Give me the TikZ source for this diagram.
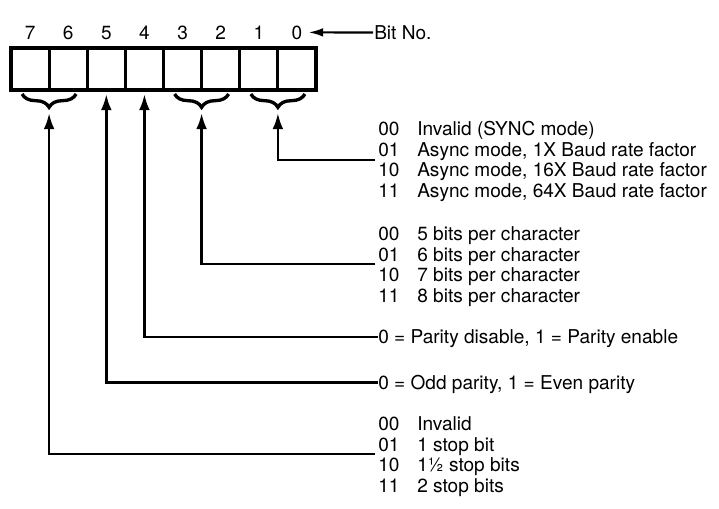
\documentclass[tikz,border=0pt]{standalone}
\usepackage{fontspec}
\setmainfont{TeX Gyre Heros}
\usetikzlibrary{arrows.meta,decorations.pathreplacing}
\begin{document}
\begin{tikzpicture}[x=0.75pt,y=-0.75pt,
  txt/.style={inner sep=0pt, font=\fontsize{14.3pt}{16pt}\selectfont},
  cell/.style={draw, line width=2.3pt, minimum width=28.59pt, minimum height=31.5pt, inner sep=0pt},
  conn/.style={line width=2pt, -{Latex[length=12pt,width=8pt]}},
  bitarr/.style={line width=1.6pt, -{Latex[length=11pt,width=6.5pt]}},
  brc/.style={line width=2.5pt, decorate, decoration={brace, mirror, amplitude=10pt}},
  ]
\useasboundingbox (0,0) rectangle (719,508);

% register cells
\node[cell] (c7) at (30.06,69) {};
\node[cell] (c6) at (68.19,69) {};
\node[cell] (c5) at (106.31,69) {};
\node[cell] (c4) at (144.44,69) {};
\node[cell] (c3) at (182.56,69) {};
\node[cell] (c2) at (220.69,69) {};
\node[cell] (c1) at (258.81,69) {};
\node[cell] (c0) at (296.94,69) {};

% bit numbers
\node[txt, anchor=base] (n7) at (30.06,39) {7};
\node[txt, anchor=base] (n6) at (68.19,39) {6};
\node[txt, anchor=base] (n5) at (106.31,39) {5};
\node[txt, anchor=base] (n4) at (144.44,39) {4};
\node[txt, anchor=base] (n3) at (182.56,39) {3};
\node[txt, anchor=base] (n2) at (220.69,39) {2};
\node[txt, anchor=base] (n1) at (258.81,39) {1};
\node[txt, anchor=base] (n0) at (296.94,39) {0};
\node[txt, anchor=base west] (bitno) at (374,39) {Bit No.};
\draw[bitarr] ([shift={(-1,-6.5)}]bitno.base west) -- ([shift={(6,0)}]n0.east);

% braces
\draw[brc] (22.1,94) -- (76.1,94);
\draw[brc] (174.6,94) -- (228.6,94);
\draw[brc] (250.9,94) -- (304.9,94);
\coordinate (t76) at (49.1,113);
\coordinate (t32) at (201.6,113);
\coordinate (t10) at (277.9,113);

% group 1: bits 1-0
\node[txt, anchor=base west] (g1a) at (378,135.5) {00};
\node[txt, anchor=base west] (g1ad) at (417,135.5) {Invalid (SYNC mode)};
\node[txt, anchor=base west] (g1b) at (378,156) {01};
\node[txt, anchor=base west] (g1bd) at (417,156) {Async mode, 1X Baud rate factor};
\node[txt, anchor=base west] (g1c) at (378,176.5) {10};
\node[txt, anchor=base west] (g1cd) at (417,176.5) {Async mode, 16X Baud rate factor};
\node[txt, anchor=base west] (g1d) at (378,197) {11};
\node[txt, anchor=base west] (g1dd) at (417,197) {Async mode, 64X Baud rate factor};

% group 2: bits 3-2
\node[txt, anchor=base west] (g2a) at (378,240.5) {00};
\node[txt, anchor=base west] (g2ad) at (417,240.5) {5 bits per character};
\node[txt, anchor=base west] (g2b) at (378,261) {01};
\node[txt, anchor=base west] (g2bd) at (417,261) {6 bits per character};
\node[txt, anchor=base west] (g2c) at (378,281.5) {10};
\node[txt, anchor=base west] (g2cd) at (417,281.5) {7 bits per character};
\node[txt, anchor=base west] (g2d) at (378,302) {11};
\node[txt, anchor=base west] (g2dd) at (417,302) {8 bits per character};

% parity
\node[txt, anchor=base west] (par) at (378,343.5) {0 = Parity disable, 1 = Parity enable};
\node[txt, anchor=base west] (odd) at (378,389) {0 = Odd parity, 1 = Even parity};

% group 3: bits 7-6
\node[txt, anchor=base west] (g3a) at (378,430.5) {00};
\node[txt, anchor=base west] (g3ad) at (417,430.5) {Invalid};
\node[txt, anchor=base west] (g3b) at (378,451) {01};
\node[txt, anchor=base west] (g3bd) at (417,451) {1 stop bit};
\node[txt, anchor=base west] (g3c) at (378,471.5) {10};
\node[txt, anchor=base west] (g3cd) at (417,471.5) {1½ stop bits};
\node[txt, anchor=base west] (g3d) at (378,492) {11};
\node[txt, anchor=base west] (g3dd) at (417,492) {2 stop bits};

% connectors
\draw[conn] ([shift={(-3,4)}]g1b.base west) -| (t10);
\draw[conn] ([shift={(-3,3)}]g2b.base west) -| (t32);
\draw[conn] ([shift={(0,-6.5)}]par.base west) -| ([shift={(0,2.5)}]c4.south);
\draw[conn] ([shift={(0,-6.5)}]odd.base west) -| ([shift={(0,2.5)}]c5.south);
\draw[conn] ([shift={(-3,3)}]g3b.base west) -| (t76);
\end{tikzpicture}
\end{document}
